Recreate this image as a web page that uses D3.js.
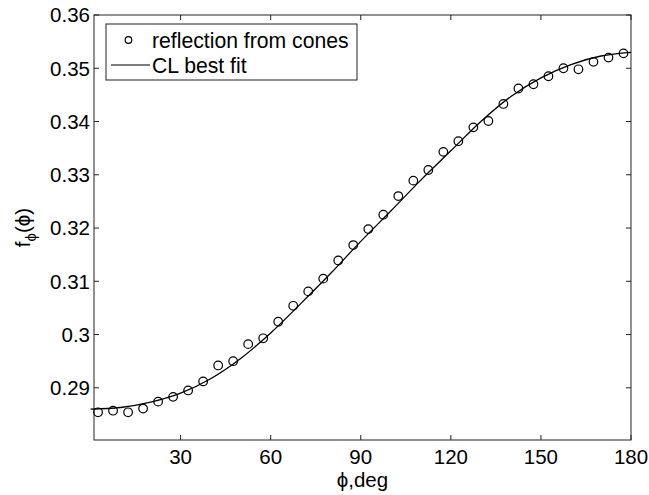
<!DOCTYPE html>
<html>
<head>
<meta charset="utf-8">
<script src="https://cdn.jsdelivr.net/npm/d3@7"></script>
<style>
  body { margin: 0; background: #fff; }
  svg text { font-family: "Liberation Sans", Arial, Helvetica, sans-serif; fill: #000; }
</style>
</head>
<body>
<svg width="649" height="495"></svg>
<script>
// measured points (reflection from cones)
const phiDeg = [2.5, 7.5, 12.5, 17.5, 22.5, 27.5, 32.5, 37.5, 42.5, 47.5, 52.5, 57.5,
  62.5, 67.5, 72.5, 77.5, 82.5, 87.5, 92.5, 97.5, 102.5, 107.5, 112.5, 117.5,
  122.5, 127.5, 132.5, 137.5, 142.5, 147.5, 152.5, 157.5, 162.5, 167.5, 172.5, 177.5];
const fPhi = [0.2854, 0.2857, 0.2854, 0.2861, 0.2874, 0.2883, 0.2895, 0.2912, 0.2942, 0.2950, 0.2982, 0.2993,
  0.3024, 0.3054, 0.3081, 0.3105, 0.3139, 0.3168, 0.3198, 0.3225, 0.3260, 0.3289, 0.3309, 0.3343,
  0.3363, 0.3389, 0.3401, 0.3433, 0.3462, 0.3470, 0.3485, 0.3500, 0.3498, 0.3512, 0.3520, 0.3528];

// CL best fit
const fitPhi = [0, 10, 20, 30, 40, 50, 60, 70, 80, 90, 100, 110, 120, 130, 140, 150, 160, 170, 180];
const fitF = [0.2860, 0.2863, 0.2873, 0.2890, 0.2917, 0.2955, 0.3003, 0.3058, 0.3115, 0.3175,
  0.3232, 0.3290, 0.3345, 0.3400, 0.3447, 0.3482, 0.3507, 0.3523, 0.3530];

const xTicks = [30, 60, 90, 120, 150, 180];
const yTicks = [0.29, 0.30, 0.31, 0.32, 0.33, 0.34, 0.35, 0.36];
const yTickLabels = ["0.29", "0.3", "0.31", "0.32", "0.33", "0.34", "0.35", "0.36"];

const svg = d3.select("svg");
const pLeft = 94, pRight = 631, pTop = 15, pBottom = 440;

const x = d3.scaleLinear().domain([1.15, 180]).range([pLeft, pRight]);
const y = d3.scaleLinear().domain([0.2802, 0.36]).range([pBottom, pTop]);

const tickLen = 5;
const fontSize = 20.5;

// box
svg.append("rect")
  .attr("x", pLeft).attr("y", pTop)
  .attr("width", pRight - pLeft).attr("height", pBottom - pTop)
  .attr("fill", "none").attr("stroke", "#222").attr("stroke-width", 1);

// ticks on all four sides, pointing in
const xt = svg.append("g").attr("stroke", "#222");
xTicks.forEach(t => {
  xt.append("line").attr("x1", x(t)).attr("x2", x(t)).attr("y1", pBottom).attr("y2", pBottom - tickLen);
  xt.append("line").attr("x1", x(t)).attr("x2", x(t)).attr("y1", pTop).attr("y2", pTop + tickLen);
});
yTicks.forEach(t => {
  xt.append("line").attr("x1", pLeft).attr("x2", pLeft + tickLen).attr("y1", y(t)).attr("y2", y(t));
  xt.append("line").attr("x1", pRight).attr("x2", pRight - tickLen).attr("y1", y(t)).attr("y2", y(t));
});

svg.append("g").selectAll("text")
  .data(xTicks).join("text")
  .attr("x", d => x(d)).attr("y", pBottom + 24)
  .attr("text-anchor", "middle")
  .attr("font-size", fontSize)
  .text(d => d);

svg.append("g").selectAll("text")
  .data(yTicks).join("text")
  .attr("x", pLeft - 4).attr("y", d => y(d))
  .attr("dy", "0.36em")
  .attr("text-anchor", "end")
  .attr("font-size", fontSize)
  .text((d, i) => yTickLabels[i]);

// axis labels
svg.append("text")
  .attr("x", (pLeft + pRight) / 2).attr("y", 487)
  .attr("text-anchor", "middle")
  .attr("font-size", fontSize)
  .text("ϕ,deg");

const yl = svg.append("text")
  .attr("transform", `translate(30, ${(pTop + pBottom) / 2}) rotate(-90)`)
  .attr("text-anchor", "middle")
  .attr("font-size", fontSize);
yl.append("tspan").text("f");
yl.append("tspan").attr("font-size", 15).attr("dy", 6).text("ϕ");
yl.append("tspan").attr("dy", -6).text("(ϕ)");

// fit line
const line = d3.line()
  .x((d, i) => x(fitPhi[i]))
  .y(d => y(d))
  .curve(d3.curveMonotoneX);

svg.append("path")
  .datum(fitF)
  .attr("d", line)
  .attr("fill", "none")
  .attr("stroke", "#000")
  .attr("stroke-width", 1.3);

// circles
svg.append("g").selectAll("circle")
  .data(fPhi).join("circle")
  .attr("cx", (d, i) => x(phiDeg[i]))
  .attr("cy", d => y(d))
  .attr("r", 4.3)
  .attr("fill", "none")
  .attr("stroke", "#000")
  .attr("stroke-width", 1.2);

// legend
const lg = svg.append("g");
lg.append("rect")
  .attr("x", 106).attr("y", 24).attr("width", 251).attr("height", 56)
  .attr("fill", "#fff").attr("stroke", "#222").attr("stroke-width", 1);
lg.append("circle")
  .attr("cx", 128.5).attr("cy", 40).attr("r", 3.3)
  .attr("fill", "none").attr("stroke", "#000").attr("stroke-width", 1.2);
lg.append("text")
  .attr("x", 152).attr("y", 40).attr("dy", "0.36em")
  .attr("font-size", 21.2)
  .text("reflection from cones");
lg.append("line")
  .attr("x1", 111).attr("x2", 150).attr("y1", 65).attr("y2", 65)
  .attr("stroke", "#000").attr("stroke-width", 1.2);
lg.append("text")
  .attr("x", 152).attr("y", 65).attr("dy", "0.36em")
  .attr("font-size", 21.2)
  .text("CL best fit");
</script>
</body>
</html>
